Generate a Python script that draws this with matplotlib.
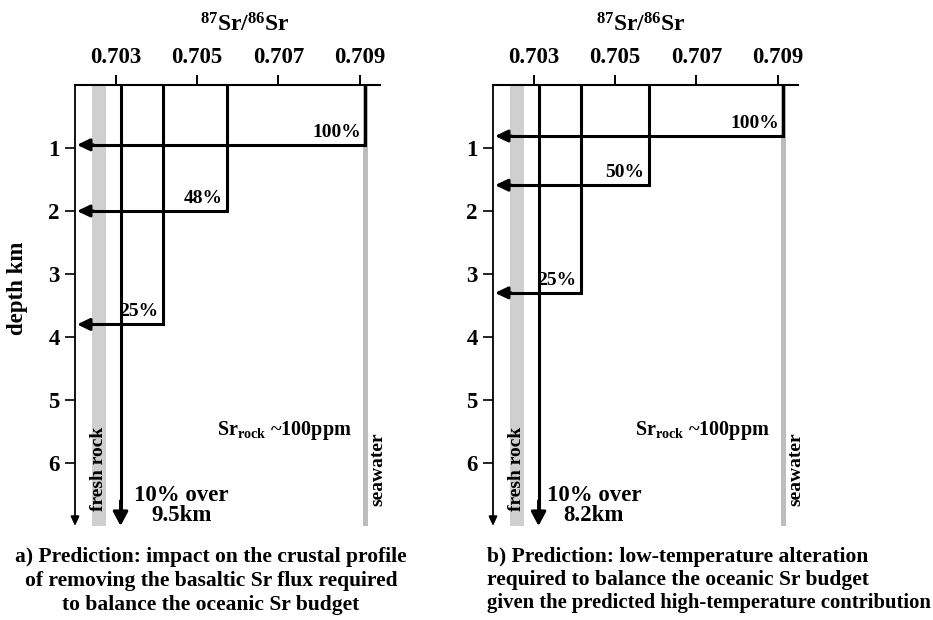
import matplotlib
matplotlib.use('Agg')
import matplotlib.pyplot as plt

plt.rcParams['font.family'] = 'Liberation Serif'
plt.rcParams['font.weight'] = 'bold'
plt.rcParams['mathtext.fontset'] = 'custom'
plt.rcParams['mathtext.rm'] = 'Liberation Serif:bold'
plt.rcParams['mathtext.it'] = 'Liberation Serif:bold'
plt.rcParams['mathtext.bf'] = 'Liberation Serif:bold'

# Data -----------------------------------------------------------------
x_ticks = [0.703, 0.705, 0.707, 0.709]
depth_ticks = [1, 2, 3, 4, 5, 6]
x_min, x_max = 0.702, 0.7095
depth_max = 7.0

fresh_rock = (0.70242, 0.70276)
seawater = 0.70914
base_ratio = 0.70312   # line that runs all the way down

ratios_a = [0.70914, 0.70574, 0.70416]
depths_a = [0.95, 2.0, 3.8]
labels_a = ['100%', '48%', '25%']
note_a = '10% over\n9.5km'

ratios_b = [0.70914, 0.70583, 0.70416]
depths_b = [0.81, 1.59, 3.3]
labels_b = ['100%', '50%', '25%']
note_b = '10% over\n8.2km'

caption_a = ['a) Prediction: impact on the crustal profile',
             'of removing the basaltic Sr flux required',
             'to balance the oceanic Sr budget']
caption_b = ['b) Prediction: low-temperature alteration',
             'required to balance the oceanic Sr budget',
             'given the predicted high-temperature contribution']

W, H = 933, 620
LW = 2.2


def draw_panel(ax, ratios, depths, labels, note, note_x):
    ax.set_xlim(x_min, x_max)
    ax.set_ylim(depth_max, 0)
    ax.xaxis.tick_top()
    ax.set_xticks(x_ticks)
    ax.set_xticklabels(['%.3f' % v for v in x_ticks])
    ax.set_yticks(depth_ticks)
    ax.set_yticklabels([str(d) for d in depth_ticks])
    ax.tick_params(axis='x', length=7, width=1.4, pad=5.5,
                   labelsize=16.5)
    ax.tick_params(axis='y', length=7, width=1.2, pad=4,
                   labelsize=16.5)
    for s in ['right', 'bottom', 'left']:
        ax.spines[s].set_visible(False)
    ax.spines['top'].set_linewidth(1.5)

    # left axis drawn as a thin arrow
    ax.annotate('', xy=(x_min, depth_max), xytext=(x_min, 0),
                arrowprops=dict(arrowstyle='-|>,head_length=0.55,'
                                           'head_width=0.25',
                                lw=1.3, color='k', shrinkA=0,
                                shrinkB=0, mutation_scale=10),
                annotation_clip=False)

    # grey bands
    ax.axvspan(fresh_rock[0], fresh_rock[1], color='#cfcfcf',
               lw=0, zorder=1)
    ax.plot([seawater, seawater], [0, depth_max], color='#bdbdbd',
            lw=3.6, solid_capstyle='butt', zorder=1)

    # main line down to the bottom
    ax.plot([base_ratio, base_ratio], [0, depth_max - 0.15],
            color='k', lw=LW, solid_capstyle='butt', zorder=3)
    ax.annotate('', xy=(base_ratio, depth_max),
                xytext=(base_ratio, depth_max - 0.4),
                arrowprops=dict(arrowstyle='-|>,head_length=0.85,'
                                           'head_width=0.45',
                                lw=LW, color='k', shrinkA=0,
                                shrinkB=0, mutation_scale=10),
                annotation_clip=False, zorder=3)

    # L-shaped exchange profiles
    tip = x_min + 0.00005
    for r, d, lab in zip(ratios, depths, labels):
        ax.plot([r, r, tip + 0.0002], [0, d, d], color='k', lw=LW,
                solid_joinstyle='miter', solid_capstyle='butt',
                zorder=3)
        ax.annotate('', xy=(tip, d), xytext=(tip + 0.0004, d),
                    arrowprops=dict(arrowstyle='-|>,head_length=0.75,'
                                               'head_width=0.36',
                                    lw=LW, color='k', shrinkA=0,
                                    shrinkB=0, mutation_scale=10),
                    annotation_clip=False, zorder=3)
        ax.annotate(lab, xy=(r, d), xytext=(-3, 3),
                    textcoords='offset points', ha='right',
                    va='bottom', fontsize=14, fontweight='bold')

    ax.text(sum(fresh_rock) / 2, 6.1, 'fresh rock', rotation=90,
            ha='center', va='center', fontsize=14)
    ax.text(0.70946, 6.1, 'seawater', rotation=90, ha='center',
            va='center', fontsize=14)
    ax.text(0.70881, 5.48, r'Sr$_{rock}$ ~100ppm', ha='right',
            va='center', fontsize=14.5)
    ax.text(note_x, 6.68, note, ha='center', va='center',
            fontsize=16.5, linespacing=0.95)


fig = plt.figure(figsize=(W / 100, H / 100), dpi=100)

ax_a = fig.add_axes([75 / W, 1 - 526 / H, 305 / W, 441 / H])
ax_b = fig.add_axes([493 / W, 1 - 526 / H, 305 / W, 441 / H])

draw_panel(ax_a, ratios_a, depths_a, labels_a, note_a, 0.70461)
draw_panel(ax_b, ratios_b, depths_b, labels_b, note_b, 0.70448)

ax_a.set_ylabel('depth km', fontsize=16.5, fontweight='bold')
ax_a.yaxis.set_label_coords((28 - 75) / 305, 1 - (288 - 85) / 441)

title = r'$^{87}$Sr/$^{86}$Sr'
fig.text(245 / W, 1 - 25 / H, title, ha='center', va='center',
         fontsize=17)
fig.text(641 / W, 1 - 25 / H, title, ha='center', va='center',
         fontsize=17)

for i, line in enumerate(caption_a):
    fig.text(211 / W, 1 - (557 + 24 * i) / H, line, ha='center',
             va='center', fontsize=15.5)
for i, line in enumerate(caption_b):
    fig.text(487 / W, 1 - (557 + 23 * i) / H, line, ha='left',
             va='center', fontsize=15.5 if i < 2 else 14.9)

fig.savefig('out.png', dpi=100)
